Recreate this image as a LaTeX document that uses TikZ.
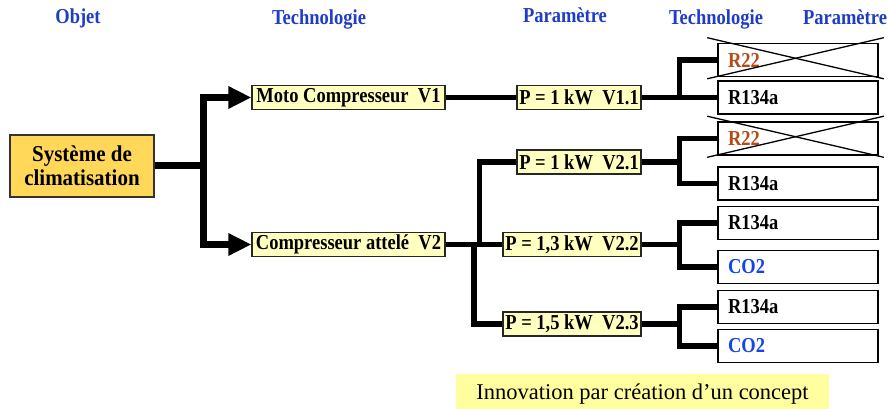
\documentclass[tikz,border=0pt]{standalone}
\usepackage{fontspec}
\usepackage{graphicx}
\setmainfont{Liberation Serif}
\usetikzlibrary{arrows.meta}
\definecolor{hdrblue}{HTML}{1E3CC8}
\definecolor{co2blue}{HTML}{1446E6}
\definecolor{r22brown}{HTML}{B44B14}
\definecolor{gold}{HTML}{FFD85A}
\definecolor{paleyellow}{HTML}{FFFFC0}
\definecolor{bannerfill}{HTML}{FFFFA0}
% bold labels are set slightly taller than wide
\newcommand{\tall}[1]{\scalebox{1}[1.15]{#1}}

\begin{document}
\begin{tikzpicture}[x=1pt,y=-1pt,
  header/.style={font=\fontsize{18.5}{20}\selectfont\bfseries, text=hdrblue, anchor=base, inner sep=0},
  choice/.style={draw=black!85, line width=1.1pt, fill=paleyellow, minimum height=24pt,
    inner sep=0, font=\fontsize{18.5}{20}\selectfont\bfseries},
  option/.style={draw=black, line width=1.6pt, fill=white, minimum width=160pt, minimum height=33pt,
    text width=140pt, inner xsep=10pt, inner ysep=0, align=left, font=\fontsize{18.5}{20}\selectfont\bfseries},
  trunk/.style={line width=7pt},
  branch/.style={line width=5.5pt},
  cross/.style={line width=1.3pt},
  bigtip/.style={-{Triangle[length=23pt,width=21pt]}},
]
\useasboundingbox (0,0) rectangle (889,409);

% column headings
\node[header] (h1) at (78,24)  {\tall{Objet}};
\node[header] (h2) at (319,25) {\tall{Technologie}};
\node[header] (h3) at (565,23) {\tall{Paramètre}};
\node[header] (h4) at (716,25) {\tall{Technologie}};
\node[header] (h5) at (845,25) {\tall{Paramètre}};

% root object
\node[draw=black!80, line width=1.5pt, fill=gold, minimum width=144pt, minimum height=62pt,
  inner sep=0, align=center, font=\fontsize{21}{24}\selectfont\bfseries] (sys) at (82,166)
  {\scalebox{1}[1.08]{Système de}\\\scalebox{1}[1.08]{climatisation}};

% technology and parameter choices
\node[choice, minimum width=193pt] (v1)  at (348.5,97.5)  {\tall{Moto Compresseur~ V1}};
\node[choice, minimum width=193pt] (v2)  at (348.5,244.5) {\tall{Compresseur attelé~ V2}};
\node[choice, minimum width=124pt] (v11) at (579,97.5)    {\tall{P = 1 kW~ V1.1}};
\node[choice, minimum width=124pt] (v21) at (579,162)     {\tall{P = 1 kW~ V2.1}};
\node[choice, minimum width=138pt] (v22) at (572,244.5)   {\tall{P = 1,3 kW~ V2.2}};
\node[choice, minimum width=138pt] (v23) at (572,324)     {\tall{P = 1,5 kW~ V2.3}};

% refrigerant options
\node[option] (o1) at (798,60)    {\tall{\color{r22brown}R22}};
\node[option] (o2) at (798,97.5)  {\tall{R134a}};
\node[option] (o3) at (798,138.5) {\tall{\color{r22brown}R22}};
\node[option] (o4) at (798,183.5) {\tall{R134a}};
\node[option] (o5) at (798,223)   {\tall{R134a}};
\node[option] (o6) at (798,267)   {\tall{\color{co2blue}CO2}};
\node[option] (o7) at (798,307)   {\tall{R134a}};
\node[option] (o8) at (798,346)   {\tall{\color{co2blue}CO2}};

% banner
\node[fill=bannerfill, minimum width=373pt, minimum height=35pt, inner sep=0,
  text height=18pt, text depth=3pt, font=\fontsize{22.5}{24}\selectfont] (motto) at (642.5,391.5)
  {Innovation par création d’un concept};

% junction points
\coordinate (j0)  at (203.5,166);
\coordinate (f21) at (479.5,244.5);
\coordinate (f23) at (474,244.5);
\coordinate (k11) at (679.5,97.5);
\coordinate (k21) at (679.5,162);
\coordinate (k22) at (679.5,244.5);
\coordinate (k23) at (679.5,324);

% main tree
\draw[trunk] (sys.east) -- (j0);
\draw[trunk, bigtip] (j0) |- (v1.west);
\draw[trunk, bigtip] (j0) |- (v2.west);

\draw[branch] (v1.east) -- (v11.west);
\draw[branch] (v2.east) -- (v22.west);
\draw[branch] (f21) |- (v21.west);
\draw[branch] (f23) |- (v23.west);

% refrigerant branches
\draw[branch] (v11.east) -- (k11);
\draw[branch] (o1.west) -| (k11) |- (o2.west);
\draw[branch] (v21.east) -- (k21);
\draw[branch] (o3.west) -| (k21) |- (o4.west);
\draw[branch] (v22.east) -- (k22);
\draw[branch] (o5.west) -| (k22) |- (o6.west);
\draw[branch] (v23.east) -- (k23);
\draw[branch] (o7.west) -| (k23) |- (o8.west);

% discarded options
\foreach \o in {o1,o3}{
  \draw[cross] ([xshift=-10pt,yshift=5pt]\o.north west) -- ([xshift=5pt,yshift=-1.5pt]\o.south east);
  \draw[cross] ([xshift=-10pt,yshift=-1.5pt]\o.south west) -- ([xshift=5pt,yshift=5pt]\o.north east);
}
\end{tikzpicture}
\end{document}
